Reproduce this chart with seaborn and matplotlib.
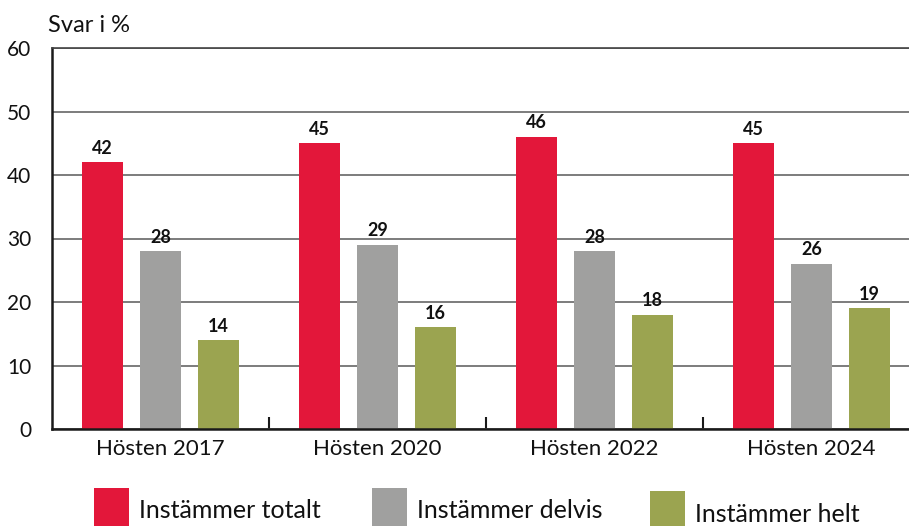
import matplotlib
matplotlib.use("Agg")
import matplotlib.pyplot as plt
import seaborn as sns
import pandas as pd
from matplotlib.patches import Rectangle
from matplotlib.ticker import FixedLocator

periods = ["Hösten 2017", "Hösten 2020", "Hösten 2022", "Hösten 2024"]
series = ["Instämmer totalt", "Instämmer delvis", "Instämmer helt"]
totalt = [42, 45, 46, 45]
delvis = [28, 29, 28, 26]
helt = [14, 16, 18, 19]
colors = ["#E3173A", "#A0A09F", "#9BA450"]

rows = []
for s, vals in zip(series, [totalt, delvis, helt]):
    for p, v in zip(periods, vals):
        rows.append({"period": p, "serie": s, "value": v})
df = pd.DataFrame(rows)

sns.set_theme(style="white")
plt.rcParams["font.family"] = ["Lato", "DejaVu Sans"]

fig = plt.figure(figsize=(9.09, 5.26), dpi=100)
ax = fig.add_axes([52 / 909, 97 / 526, 868 / 909, 381 / 526])

sns.barplot(data=df, x="period", y="value", hue="serie", palette=colors,
            width=0.8, gap=0.29, ax=ax, legend=False, saturation=1, linewidth=0)

ax.set_xlim(-0.5, 3.5)
ax.set_ylim(0, 60)
ax.set_yticks(range(0, 61, 10))
ax.yaxis.grid(True, color="#666666", linewidth=1.2)
ax.set_axisbelow(True)
ax.set_xlabel("")
ax.set_ylabel("")

for sp in ["left", "bottom", "top"]:
    ax.spines[sp].set_visible(True)
    ax.spines[sp].set_color("#1a1a1a")
ax.spines["left"].set_linewidth(1.8)
ax.spines["bottom"].set_linewidth(1.8)
ax.spines["top"].set_linewidth(1.2)
ax.spines["top"].set_color("#444444")
ax.spines["right"].set_visible(False)

ax.tick_params(axis="y", length=0, pad=15, labelsize=15, labelcolor="#111111")
ax.tick_params(axis="x", which="major", length=0, pad=7, labelsize=16, labelcolor="#111111")
ax.xaxis.set_minor_locator(FixedLocator([0.5, 1.5, 2.5]))
ax.tick_params(axis="x", which="minor", direction="in", length=9, width=1.5, color="#1a1a1a", bottom=True)

for c in ax.containers:
    ax.bar_label(c, padding=4, fontsize=13, fontweight="bold", color="#111111")

fig.text(48 / 909, 1 - 25 / 526, "Svar i %", fontsize=17, va="center", ha="left", color="#111111")

ypos = [488, 488, 491]
xpos = [94, 372, 650]
for lab, x, y, c in zip(series, xpos, ypos, colors):
    fig.patches.append(Rectangle((x / 909, 1 - (y + 40) / 526), 35 / 909, 40 / 526,
                                 transform=fig.transFigure, facecolor=c, edgecolor="none"))
    fig.text((x + 45) / 909, 1 - (y + 23) / 526, lab, fontsize=18, va="center", ha="left", color="#111111")

fig.savefig("out.png", dpi=100)
